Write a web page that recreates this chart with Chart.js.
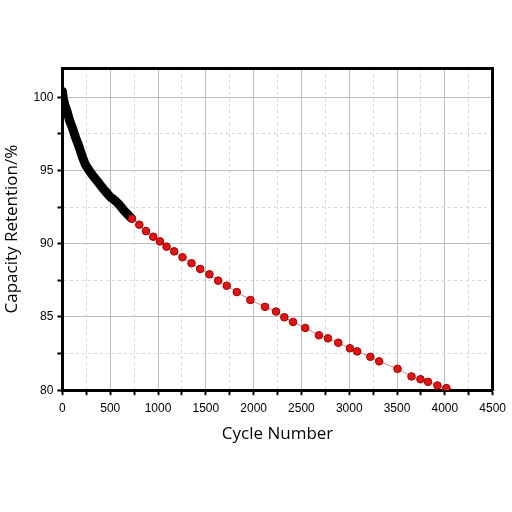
<!DOCTYPE html>
<html>
<head>
<meta charset="utf-8">
<script src="https://cdn.jsdelivr.net/npm/chart.js@4.4.0/dist/chart.umd.min.js"></script>
<style>
  html, body { margin: 0; padding: 0; background: #fff; }
  #wrap { width: 512px; height: 512px; }
</style>
</head>
<body>
<div id="wrap"><canvas id="myChart"></canvas></div>
<script>
// early cycles, dense black band
var blackCycles = [0, 10, 25, 50, 75, 100, 135, 170, 205, 240, 280, 330, 380, 415, 460, 500, 550, 590, 640, 690, 720]
var blackValues = [100.4, 99.9, 99.5, 99.0, 98.4, 98.0, 97.3, 96.7, 96.0, 95.4, 95.0, 94.55, 94.15, 93.85, 93.5, 93.2, 92.95, 92.7, 92.3, 91.95, 91.75]

// later cycles, red markers
var redCycles = [728, 804, 874, 950, 1020, 1089, 1169, 1256, 1350, 1441, 1538, 1629, 1719, 1824, 1966,
  2119, 2234, 2321, 2412, 2540, 2683, 2777, 2885, 3007, 3083, 3221, 3313, 3505, 3651, 3745, 3824, 3922, 4016]
var redValues = [91.71, 91.30, 90.86, 90.48, 90.16, 89.80, 89.48, 89.08, 88.67, 88.28, 87.91, 87.48, 87.13, 86.70, 86.16,
  85.69, 85.37, 84.98, 84.66, 84.25, 83.75, 83.54, 83.24, 82.86, 82.65, 82.28, 81.97, 81.46, 80.94, 80.75, 80.57, 80.32, 80.14]

var xTicks = [0, 500, 1000, 1500, 2000, 2500, 3000, 3500, 4000, 4500]
var yTicks = [80, 85, 90, 95, 100]

function pairs(xs, ys) {
  var out = []
  for (var i = 0; i < xs.length; i++) out.push({x: xs[i], y: ys[i]})
  return out
}

function isMajor(ctx, list) {
  return ctx.tick && list.indexOf(ctx.tick.value) >= 0
}

var tickFont = {family: 'Liberation Sans', size: 12}
var titleFont = {family: 'Open Sans', size: 17}

var ctx = document.getElementById('myChart').getContext('2d')
var chart = new Chart(ctx, {
  type: 'scatter',
  data: {
    datasets: [{
      label: 'red',
      data: pairs(redCycles, redValues),
      showLine: true,
      borderColor: '#c98080',
      borderWidth: 1,
      pointRadius: 3.8,
      pointBackgroundColor: '#e01414',
      pointBorderColor: '#a30000',
      pointBorderWidth: 1
    }, {
      label: 'black',
      data: pairs(blackCycles, blackValues),
      showLine: true,
      borderColor: '#000',
      borderWidth: 9,
      borderJoinStyle: 'round',
      borderCapStyle: 'round',
      pointRadius: 0
    }]
  },
  options: {
    animation: false,
    responsive: true,
    maintainAspectRatio: false,
    layout: {padding: {left: 2, right: 7, top: 60, bottom: 64}},
    plugins: {legend: {display: false}, tooltip: {enabled: false}},
    scales: {
      x: {
        type: 'linear',
        min: 0, max: 4500,
        ticks: {
          stepSize: 250,
          color: '#000',
          font: tickFont,
          padding: 6,
          maxRotation: 0,
          autoSkip: false,
          callback: function(v) { return xTicks.indexOf(v) >= 0 ? String(v) : '' }
        },
        grid: {
          color: function(c) { return isMajor(c, xTicks) ? '#bdbdbd' : '#d6d6d6' },
          lineWidth: 1,
          tickColor: '#000',
          tickWidth: 2,
          tickLength: 5
        },
        border: {
          color: '#000', width: 3,
          dash: function(c) { return c.tick && !isMajor(c, xTicks) ? [3, 3] : [] }
        },
        title: {display: true, text: 'Cycle Number', color: '#000', font: titleFont, padding: {top: 2}}
      },
      y: {
        type: 'linear',
        min: 80, max: 102,
        ticks: {
          stepSize: 2.5,
          includeBounds: false,
          color: '#000',
          font: tickFont,
          padding: 4,
          autoSkip: false,
          callback: function(v) { return yTicks.indexOf(v) >= 0 ? String(v) : '' }
        },
        grid: {
          color: function(c) { return isMajor(c, yTicks) ? '#bdbdbd' : '#d6d6d6' },
          lineWidth: 1,
          tickColor: '#000',
          tickWidth: 2,
          tickLength: 5
        },
        border: {
          color: '#000', width: 3,
          dash: function(c) { return c.tick && !isMajor(c, yTicks) ? [3, 3] : [] }
        },
        title: {display: true, text: 'Capacity Retention/%', color: '#000', font: titleFont, padding: {top: 0, bottom: 7}}
      },
      x2: {
        type: 'linear', position: 'top', min: 0, max: 4500,
        ticks: {display: false},
        grid: {display: false},
        border: {color: '#000', width: 3}
      },
      y2: {
        type: 'linear', position: 'right', min: 80, max: 102,
        ticks: {display: false},
        grid: {display: false},
        border: {color: '#000', width: 3}
      }
    }
  }
})
</script>
</body>
</html>
